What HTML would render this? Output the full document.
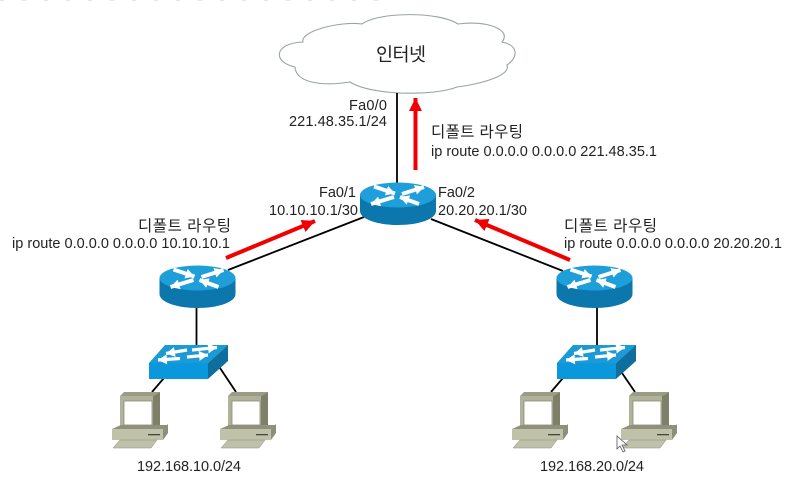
<!DOCTYPE html>
<html lang="ko"><head><meta charset="utf-8"><title>디폴트 라우팅</title>
<style>
html,body{margin:0;padding:0;background:#fff;width:793px;height:477px;overflow:hidden}
svg{display:block}
text{font-family:"Liberation Sans","Noto Sans CJK KR",sans-serif;fill:#222;font-size:14.500px}
</style></head><body>
<svg width="793" height="477" viewBox="0 0 793 477" xmlns="http://www.w3.org/2000/svg">
<defs>
<marker id="ah" markerUnits="userSpaceOnUse" markerWidth="16" markerHeight="14" refX="13" refY="6.500" orient="auto"><path d="M0 0L13 6.500L0 13Z" fill="#f00000"/></marker>
<marker id="wh" markerUnits="userSpaceOnUse" markerWidth="12" markerHeight="12" refX="9" refY="5" orient="auto"><path d="M0 0L9 5L0 10Z" fill="#fff"/></marker>
<g id="router">
<path d="M-38 13V29C-38 37-21 43 0 43S38 37 38 29V13Z" fill="#0b77ac"/>
<ellipse cx="0" cy="13" rx="38" ry="12.500" fill="#1f9fda"/>
<g stroke="#fff" stroke-width="4" fill="none" transform="translate(0 13)">
<path d="M-24 -8.500L-3 -1.500" marker-end="url(#wh)"/>
<path d="M4 -1L26 -8" marker-end="url(#wh)"/>
<path d="M-4 2L-27 9" marker-end="url(#wh)"/>
<path d="M21 9L2 2" marker-end="url(#wh)"/>
</g>
</g>
<g id="switch">
<path d="M16 0H79L59 18H0Z" fill="#1b9ad5"/>
<rect x="0" y="18" width="59" height="16" fill="#0a97db"/>
<path d="M79 0V16L59 34V18Z" fill="#0e6f9f"/>
<g stroke="#fff" stroke-width="3.200" fill="none">
<path d="M43 5L68 2.500" marker-end="url(#wh)"/>
<path d="M38 5L17 8.500" marker-end="url(#wh)"/>
<path d="M31 13.500L9 15" marker-end="url(#wh)"/>
<path d="M38 12L59 10" marker-end="url(#wh)"/>
</g>
</g>
<g id="pc">
<path d="M5 0H41L34 4H1Z" fill="#9a9c85"/>
<rect x="1" y="4" width="33" height="31" fill="#b0b29a"/>
<path d="M34 4L41 0V33L34 35Z" fill="#7e806a"/>
<rect x="5" y="9" width="28" height="24" fill="#fff" stroke="#8a8c76" stroke-width=".8"/>
<path d="M-7 37L2 33H49L44 37Z" fill="#8f917b"/>
<rect x="-7" y="37" width="51" height="11" fill="#bfc1a9"/>
<path d="M44 37L49 32V41L44 48Z" fill="#8d8f78"/>
<rect x="29" y="42" width="12" height="1.300" fill="#45463c"/>
<path d="M-6 56L1 48H38L32 56Z" fill="#bfc1aa" stroke="#8a8c7a" stroke-width=".5"/>
</g>
</defs>

<path d="M0 .2H390" stroke="#777" stroke-width=".6" stroke-dasharray="4 18" opacity=".35"/>

<path d="M303 42C300 31 340 21 362 24C378 12 438 11 458 24C488 20 512 30 502 42C518 45 519 57 507 65C511 76 480 84 457 87C435 96 372 96 350 82C325 86 296 84 295 67C272 62 274 43 303 42Z" fill="#fff" stroke="#9aa59f" stroke-width="1.100"/>
<text x="376" y="61" textLength="50" lengthAdjust="spacing" style="font-size:18.500px">인터넷</text>

<g stroke="#000" stroke-width="1.800" fill="none">
<path d="M397 93V184"/>
<path d="M364 217L228 270"/>
<path d="M431 219L563 271"/>
<path d="M196.500 305V346"/>
<path d="M597 305V346"/>
<path d="M164 378L152 392"/><path d="M220 368L236 392"/>
<path d="M563 378L551 392"/><path d="M622 373L635 392"/>
</g>

<use href="#router" x="398" y="182"/>
<use href="#router" x="197.500" y="265"/>
<use href="#router" x="594.500" y="265"/>
<use href="#switch" x="149" y="345"/>
<use href="#switch" x="557" y="345"/>
<use href="#pc" x="119" y="392"/>
<use href="#pc" x="227" y="392"/>
<use href="#pc" x="519" y="392"/>
<use href="#pc" x="628" y="392"/>

<g stroke="#f00000" stroke-width="4" fill="none">
<path d="M415.500 170V98" marker-end="url(#ah)"/>
<path d="M226 258L315 221" marker-end="url(#ah)"/>
<path d="M570 260L475 220" marker-end="url(#ah)"/>
</g>

<text x="349" y="110" textLength="38">Fa0/0</text>
<text x="289" y="126" textLength="98">221.48.35.1/24</text>
<text x="431" y="137" textLength="92" style="font-size:15.500px">디폴트 라우팅</text>
<text x="431" y="156" textLength="226">ip route 0.0.0.0 0.0.0.0 221.48.35.1</text>
<text x="319" y="197" textLength="37">Fa0/1</text>
<text x="269" y="215" textLength="89">10.10.10.1/30</text>
<text x="438" y="197" textLength="37">Fa0/2</text>
<text x="438" y="215" textLength="89">20.20.20.1/30</text>
<text x="138" y="231" textLength="93" style="font-size:15.500px">디폴트 라우팅</text>
<text x="12" y="248" textLength="218">ip route 0.0.0.0 0.0.0.0 10.10.10.1</text>
<text x="564" y="231" textLength="93" style="font-size:15.500px">디폴트 라우팅</text>
<text x="564" y="248" textLength="218">ip route 0.0.0.0 0.0.0.0 20.20.20.1</text>
<text x="137" y="471" textLength="104">192.168.10.0/24</text>
<text x="540" y="471" textLength="104">192.168.20.0/24</text>

<path d="M617 436V449L620 446L623 452L625 451L622 445H627Z" fill="#fff" stroke="#555" stroke-width=".8"/>
</svg>
</body></html>
